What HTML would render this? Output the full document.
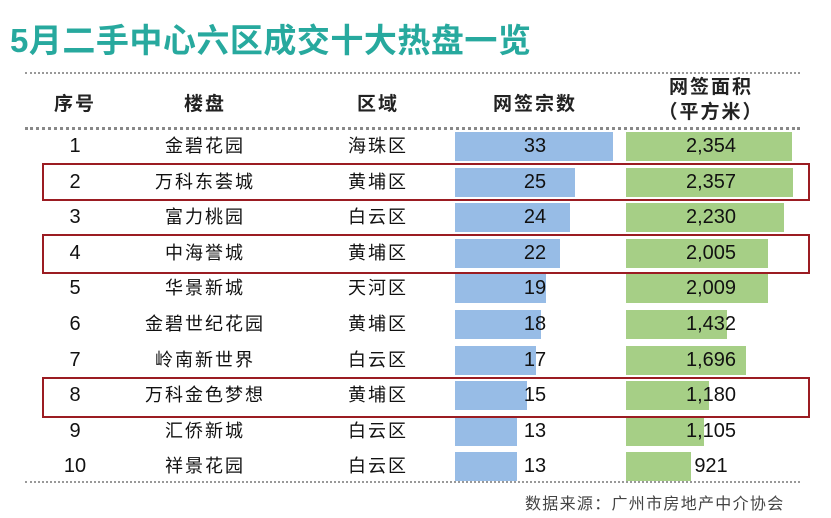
<!DOCTYPE html>
<html><head><meta charset="utf-8"><style>
body{margin:0;width:831px;height:518px;background:#fff;position:relative;overflow:hidden;font-family:"Liberation Sans","Noto Sans CJK SC",sans-serif;color:#111}
.a{position:absolute}
.t{left:10px;top:14px;font-size:33px;font-weight:bold;color:#27a99e;letter-spacing:0.5px}
.h{font-size:19px;font-weight:bold;text-align:center;color:#222;letter-spacing:2px}
.c{font-size:18px;text-align:center;line-height:28px;letter-spacing:2px}
.n{font-size:20px;letter-spacing:0}
.line{left:25px;width:775px;height:0;border-top:2px dotted #999}
.b{background:#97bce6;height:29px}
.g{background:#a6cf86;height:29px}
.r{border:2px solid #9b1c22;left:42px;width:764px}
</style></head><body>
<div class="a t">5月二手中心六区成交十大热盘一览</div>
<div class="a line" style="top:72px"></div>
<div class="a line" style="top:127px;border-top:3px dotted #888"></div>
<div class="a line" style="top:481px"></div>
<div class="a h" style="left:40px;width:70px;top:89px">序号</div>
<div class="a h" style="left:150px;width:110px;top:89px">楼盘</div>
<div class="a h" style="left:330px;width:96px;top:89px">区域</div>
<div class="a h" style="left:455px;width:160px;top:89px">网签宗数</div>
<div class="a h" style="left:626px;width:170px;top:75px;line-height:25px">网签面积<br>（平方米）</div>
<div id="rows"></div>
<div class="a" style="left:525px;top:490px;font-size:16px;color:#444;letter-spacing:1.3px">数据来源：广州市房地产中介协会</div>
<div class="a r" style="top:163px;height:34px"></div>
<div class="a r" style="top:234px;height:36px"></div>
<div class="a r" style="top:377px;height:37px"></div>
<script>
var d=[[1,"金碧花园","海珠区",33,"2,354",2354],[2,"万科东荟城","黄埔区",25,"2,357",2357],[3,"富力桃园","白云区",24,"2,230",2230],[4,"中海誉城","黄埔区",22,"2,005",2005],[5,"华景新城","天河区",19,"2,009",2009],[6,"金碧世纪花园","黄埔区",18,"1,432",1432],[7,"岭南新世界","白云区",17,"1,696",1696],[8,"万科金色梦想","黄埔区",15,"1,180",1180],[9,"汇侨新城","白云区",13,"1,105",1105],[10,"祥景花园","白云区",13,"921",921]];
var h="";
d.forEach(function(r,i){var y=132+i*35.6;
h+='<div class="a b" style="left:455px;top:'+y+'px;width:'+(r[3]*4.79)+'px"></div>';
h+='<div class="a g" style="left:626px;top:'+y+'px;width:'+(r[5]*0.0707)+'px"></div>';
h+='<div class="a c n" style="left:40px;width:70px;top:'+y+'px">'+r[0]+'</div>';
h+='<div class="a c" style="left:140px;width:130px;top:'+y+'px">'+r[1]+'</div>';
h+='<div class="a c" style="left:330px;width:96px;top:'+y+'px">'+r[2]+'</div>';
h+='<div class="a c n" style="left:455px;width:160px;top:'+y+'px">'+r[3]+'</div>';
h+='<div class="a c n" style="left:626px;width:170px;top:'+y+'px">'+r[4]+'</div>';});
document.getElementById("rows").innerHTML=h;
</script>
</body></html>
